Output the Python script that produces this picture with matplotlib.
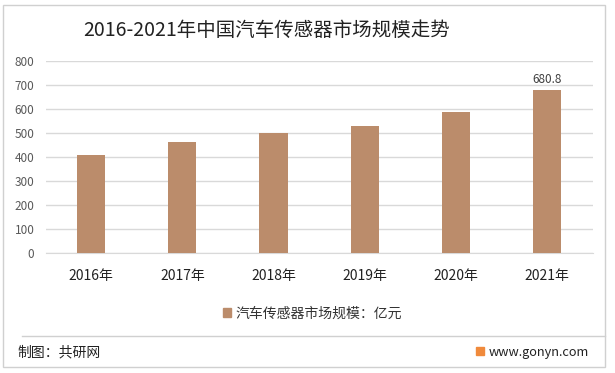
import matplotlib.pyplot as plt
from matplotlib.patches import Rectangle, Patch
from matplotlib.lines import Line2D

plt.rcParams['font.family'] = ['Noto Sans CJK SC', 'DejaVu Sans']

years = ["2016年", "2017年", "2018年", "2019年", "2020年", "2021年"]
values = [410, 464, 500, 530, 589, 680.8]
series_name = "汽车传感器市场规模：亿元"
bar_color = "#BB8C6B"
text_gray = "#595959"

fig = plt.figure(figsize=(6.15, 3.73), dpi=100)
ax = fig.add_axes([0.074, 0.321, 0.89, 0.515])

x = range(len(years))
bars = ax.bar(x, values, width=0.31, color=bar_color, zorder=3)
ax.text(x[-1], values[-1] + 15, f"{values[-1]}", ha="center", va="bottom",
        fontsize=8.5, color="#404040")

ax.set_xlim(-0.5, len(years) - 0.5)
ax.set_ylim(0, 800)
ax.set_yticks(range(0, 801, 100))
ax.set_xticks(list(x))
ax.set_xticklabels(years, fontsize=10, color="#222222")
ax.tick_params(axis="y", labelsize=8.5, colors=text_gray, length=0, pad=8)
ax.tick_params(axis="x", length=0, pad=11)
ax.grid(axis="y", color="#D9D9D9", linewidth=1, zorder=0)
for s in ["top", "right", "left"]:
    ax.spines[s].set_visible(False)
ax.spines["bottom"].set_color("#D9D9D9")

fig.text(0.434, 0.918, "2016-2021年中国汽车传感器市场规模走势", ha="center", va="center",
         fontsize=14, color="#222222")

fig.legend(handles=[Patch(color=bar_color)], labels=[series_name],
           loc="center", bbox_to_anchor=(0.508, 0.16), frameon=False,
           fontsize=10, handlelength=0.55, handleheight=0.55, handletextpad=0.3,
           labelcolor="#333333")

# outer border and footer separator
fig.patches.append(Rectangle((0.005, 0.017), 0.979, 0.97, transform=fig.transFigure,
                             fill=False, edgecolor="#D0D0D0", linewidth=1))
fig.lines.append(Line2D([0.035, 0.984], [0.1, 0.1], transform=fig.transFigure,
                        color="#D0D0D0", linewidth=1))
fig.text(0.029, 0.056, "制图：共研网", ha="left", va="center", fontsize=10, color="#222222")
fig.patches.append(Rectangle((0.774, 0.048), 0.013, 0.022, transform=fig.transFigure,
                             color="#F08A3C"))
fig.text(0.958, 0.056, "www.gonyn.com", ha="right", va="center", fontsize=9.2,
         color="#222222")

fig.savefig("out.png", dpi=100)
